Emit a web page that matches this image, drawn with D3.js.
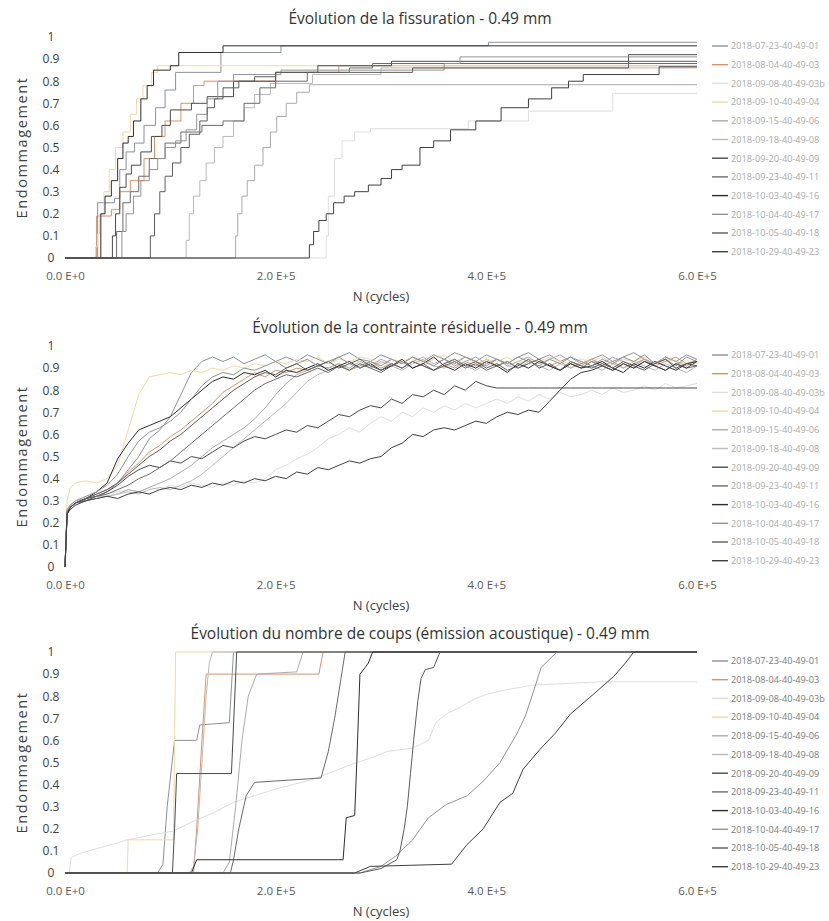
<!DOCTYPE html>
<html>
<head>
<meta charset="utf-8">
<title>Endommagement - 0.49 mm</title>
<script src="https://d3js.org/d3.v7.min.js"></script>
<style>
    body { margin: 0; background: #ffffff; }
    text { font-family: "Open Sans", sans-serif; }
</style>
</head>
<body>
<div id="chart"></div>
<script>
// noms des éprouvettes (légende)
const seriesNames = [
    '2018-07-23-40-49-01', '2018-08-04-40-49-03', '2018-09-08-40-49-03b', '2018-09-10-40-49-04',
    '2018-09-15-40-49-06', '2018-09-18-40-49-08', '2018-09-20-40-49-09', '2018-09-23-40-49-11',
    '2018-10-03-40-49-16', '2018-10-04-40-49-17', '2018-10-05-40-49-18', '2018-10-29-40-49-23'
]

// axes (x en milliers de cycles)
const xTickValues = [0, 200, 400, 600]
const xTickLabels = ['0.0 E+0', '2.0 E+5', '4.0 E+5', '6.0 E+5']
const yTickValues = [0, 0.1, 0.2, 0.3, 0.4, 0.5, 0.6, 0.7, 0.8, 0.9, 1]
const yTickLabels = ['0', '0.1', '0.2', '0.3', '0.4', '0.5', '0.6', '0.7', '0.8', '0.9', '1']

// fissuration : paliers [kcycles, endommagement]
const fissurationSeries = [
    [[0,0],[30,0],[31,0.25],[47,0.27],[52,0.4],[58,0.48],[66,0.52],[75,0.6],[86,0.68],[95,0.76],[105,0.84],[148,0.93],[205,0.96],[402,0.976],[600,0.976]],
    [[0,0],[29,0],[30,0.19],[44,0.22],[52,0.3],[62,0.35],[75,0.45],[85,0.55],[95,0.62],[110,0.7],[122,0.78],[132,0.8],[200,0.84],[260,0.87],[600,0.87]],
    [[0,0],[247,0],[248,0.1],[250,0.28],[256,0.45],[263,0.53],[275,0.57],[290,0.585],[383,0.62],[440,0.665],[520,0.745],[600,0.745]],
    [[0,0],[28,0],[29,0.05],[31,0.11],[33,0.2],[37,0.3],[42,0.4],[48,0.5],[55,0.57],[62,0.65],[68,0.72],[74,0.78],[82,0.84],[88,0.87],[600,0.87]],
    [[0,0],[161,0],[162,0.1],[164,0.2],[168,0.28],[173,0.35],[180,0.42],[188,0.5],[195,0.57],[201,0.64],[210,0.7],[220,0.75],[232,0.784],[600,0.784]],
    [[0,0],[114,0],[115,0.08],[118,0.2],[122,0.28],[128,0.35],[134,0.43],[142,0.5],[150,0.55],[160,0.62],[170,0.68],[180,0.74],[195,0.79],[235,0.83],[300,0.86],[600,0.86]],
    [[0,0],[44,0],[45,0.1],[48,0.2],[52,0.32],[58,0.38],[63,0.42],[72,0.48],[82,0.55],[92,0.6],[100,0.67],[120,0.7],[135,0.73],[160,0.8],[200,0.84],[240,0.87],[310,0.89],[535,0.92],[600,0.92]],
    [[0,0],[48,0],[49,0.12],[55,0.25],[62,0.3],[70,0.37],[80,0.45],[95,0.52],[110,0.57],[130,0.6],[150,0.62],[170,0.7],[185,0.77],[200,0.8],[230,0.84],[270,0.86],[292,0.88],[600,0.88]],
    [[0,0],[33,0],[34,0.2],[38,0.28],[44,0.35],[50,0.45],[55,0.52],[60,0.55],[65,0.62],[72,0.72],[78,0.78],[84,0.85],[100,0.87],[108,0.93],[150,0.96],[600,0.96]],
    [[0,0],[53,0],[54,0.12],[58,0.2],[65,0.28],[72,0.35],[80,0.4],[88,0.45],[95,0.5],[105,0.53],[115,0.58],[125,0.65],[135,0.72],[145,0.8],[160,0.83],[205,0.85],[360,0.88],[375,0.91],[600,0.91]],
    [[0,0],[80,0],[81,0.1],[85,0.2],[90,0.3],[95,0.37],[102,0.43],[110,0.5],[118,0.56],[128,0.62],[135,0.68],[142,0.72],[150,0.77],[165,0.8],[180,0.82],[200,0.84],[330,0.86],[535,0.89],[600,0.89]],
    [[0,0],[231,0],[232,0.06],[236,0.12],[241,0.17],[248,0.2],[255,0.25],[265,0.28],[275,0.3],[288,0.33],[300,0.36],[310,0.4],[320,0.42],[337,0.5],[350,0.53],[366,0.58],[390,0.62],[414,0.68],[440,0.72],[462,0.77],[478,0.8],[492,0.83],[564,0.865],[600,0.865]]
]

// contrainte résiduelle : relevés aux mêmes cycles pour toutes les éprouvettes
const contrainteCycles = [0, 2, 5,
    10, 20, 30, 40, 50, 60, 70, 80, 90, 100,
    110, 120, 130, 140, 150, 160, 170, 180, 190, 200,
    210, 220, 230, 240, 250, 260, 270, 280, 290, 300,
    310, 320, 330, 340, 350, 360, 370, 380, 390, 400,
    410, 420, 430, 440, 450, 460, 470, 480, 490, 500,
    510, 520, 530, 540, 550, 560, 570, 580, 590, 600]
const contrainteSeries = [
    [0,.25,.27, .29,.30,.32,.34,.38,.44,.50,.58,.62,.68, .78,.88,.93,.95,.93,.95,.92,.94,.96,.93, .95,.93,.96,.94,.92,.95,.97,.94,.93,.96, .94,.92,.95,.93,.96,.94,.97,.95,.93,.96, .94,.92,.95,.97,.94,.96,.93,.95,.92,.94, .96,.93,.95,.97,.94,.92,.95,.93,.96,.94],
    [0,.24,.27, .29,.31,.33,.35,.38,.43,.47,.52,.55,.59, .62,.66,.70,.74,.79,.82,.85,.88,.86,.89, .88,.90,.89,.91,.90,.92,.89,.91,.93,.90, .92,.90,.93,.91,.89,.92,.90,.93,.91,.94, .91,.93,.90,.92,.94,.91,.93,.90,.92,.94, .91,.93,.90,.92,.94,.91,.93,.95,.92,.93],
    [0,.25,.27, .29,.31,.32,.33,.34,.35,.34,.36,.35,.37, .36,.38,.37,.36,.38,.37,.39,.38,.40,.44, .46,.49,.51,.54,.58,.60,.63,.61,.65,.68, .66,.70,.68,.72,.70,.73,.71,.74,.72,.74, .76,.74,.77,.75,.78,.76,.79,.77,.78,.80, .78,.81,.79,.80,.82,.80,.83,.81,.82,.83],
    [0,.30,.36, .38,.39,.38,.40,.46,.62,.78,.86,.87,.88, .87,.89,.88,.90,.89,.91,.90,.92,.91,.93, .92,.94,.93,.95,.92,.94,.93,.95,.94,.92, .94,.93,.95,.92,.94,.96,.93,.95,.92,.94, .93,.95,.92,.94,.93,.95,.93,.92,.94,.93, .95,.92,.94,.93,.95,.92,.94,.93,.92,.94],
    [0,.25,.27, .29,.30,.31,.32,.33,.35,.34,.36,.38,.40, .43,.46,.50,.54,.57,.60,.63,.67,.72,.78, .83,.87,.89,.91,.90,.92,.90,.93,.91,.94, .92,.90,.93,.95,.92,.94,.91,.93,.95,.92, .94,.91,.93,.95,.92,.94,.96,.93,.91,.94, .92,.95,.93,.91,.94,.92,.95,.93,.91,.94],
    [0,.26,.28, .30,.31,.32,.32,.33,.34,.33,.35,.36,.35, .37,.39,.42,.46,.50,.54,.58,.62,.66,.70, .74,.79,.84,.87,.89,.91,.89,.92,.90,.93, .91,.89,.92,.94,.91,.90,.93,.91,.89,.92, .94,.91,.90,.93,.91,.89,.92,.90,.93,.91, .89,.92,.90,.93,.91,.89,.92,.90,.88,.91],
    [0,.24,.27, .29,.31,.32,.34,.37,.41,.44,.46,.45,.48, .47,.50,.49,.52,.55,.54,.57,.59,.58,.60, .62,.61,.64,.63,.66,.69,.68,.71,.73,.72, .76,.74,.78,.77,.80,.78,.82,.80,.84,.82, .81,.81,.81,.81,.81,.81,.81,.81,.81,.81, .81,.81,.81,.81,.81,.81,.81,.81,.81,.81],
    [0,.25,.27, .29,.30,.32,.33,.35,.37,.40,.42,.45,.48, .52,.56,.60,.64,.68,.72,.76,.80,.83,.85, .87,.86,.88,.90,.88,.91,.89,.92,.90,.88, .91,.93,.90,.92,.89,.91,.93,.90,.92,.89, .91,.93,.90,.92,.94,.91,.89,.92,.90,.93, .91,.89,.92,.90,.93,.91,.89,.92,.90,.91],
    [0,.24,.27, .29,.31,.34,.38,.49,.56,.62,.64,.66,.68, .72,.76,.80,.84,.86,.85,.88,.87,.89,.86, .89,.88,.90,.92,.89,.91,.93,.90,.92,.89, .91,.94,.90,.92,.95,.91,.89,.92,.90,.93, .91,.88,.92,.90,.93,.91,.89,.92,.90,.91, .93,.90,.88,.92,.90,.93,.91,.89,.92,.93],
    [0,.26,.28, .30,.32,.34,.37,.42,.50,.57,.61,.63,.66, .70,.76,.82,.86,.88,.87,.90,.89,.91,.93, .90,.92,.94,.91,.93,.95,.92,.90,.93,.91, .94,.92,.95,.93,.91,.94,.92,.95,.93,.91, .94,.92,.95,.93,.91,.94,.92,.95,.93,.91, .94,.92,.95,.93,.96,.92,.94,.91,.95,.93],
    [0,.25,.27, .29,.31,.33,.35,.38,.42,.46,.50,.53,.57, .60,.64,.68,.72,.76,.80,.83,.86,.88,.87, .90,.92,.89,.91,.93,.90,.92,.94,.91,.89, .92,.90,.93,.91,.89,.92,.94,.91,.93,.90, .92,.89,.91,.94,.90,.92,.89,.93,.91,.90, .92,.90,.93,.91,.89,.92,.94,.90,.92,.91],
    [0,.24,.26, .28,.30,.31,.32,.31,.33,.34,.33,.35,.36, .35,.37,.36,.38,.37,.39,.38,.40,.39,.41, .40,.43,.42,.45,.44,.46,.48,.47,.49,.50, .54,.56,.60,.59,.62,.63,.62,.64,.66,.65, .68,.70,.69,.71,.70,.75,.80,.85,.88,.89, .91,.89,.92,.90,.93,.91,.89,.92,.90,.93]
]

// émission acoustique : [kcycles, endommagement]
const acoustiqueSeries = [
    [[0,0],[88,0],[93,0.04],[97,0.3],[104,0.6],[125,0.6],[128,0.67],[156,0.68],[160,1],[600,1]],
    [[0,0],[122,0],[125,0.2],[130,0.6],[134,0.9],[241,0.9],[245,1],[600,1]],
    [[0,0],[4,0],[6,0.07],[15,0.09],[30,0.11],[45,0.13],[59,0.15],[80,0.17],[103,0.19],[120,0.23],[140,0.27],[160,0.32],[180,0.35],[200,0.38],[233,0.42],[250,0.45],[271,0.49],[290,0.52],[306,0.55],[330,0.565],[345,0.6],[352,0.68],[362,0.72],[375,0.75],[390,0.79],[401,0.81],[420,0.83],[444,0.85],[508,0.865],[600,0.865]],
    [[0,0],[59,0],[60,0.15],[103,0.15],[105,1],[600,1]],
    [[0,0],[150,0],[156,0.05],[162,0.3],[168,0.6],[174,0.8],[182,0.9],[220,0.91],[226,1],[600,1]],
    [[0,0],[118,0],[122,0.03],[126,0.2],[130,0.5],[134,0.8],[137,0.95],[140,1],[600,1]],
    [[0,0],[102,0],[104,0.2],[106,0.45],[158,0.45],[163,1],[600,1]],
    [[0,0],[157,0],[160,0.06],[165,0.2],[172,0.35],[180,0.41],[243,0.43],[250,0.55],[256,0.7],[262,0.88],[266,1],[600,1]],
    [[0,0],[120,0],[125,0.06],[264,0.06],[267,0.25],[275,0.26],[277,0.5],[280,0.9],[285,0.93],[288,0.95],[292,1],[600,1]],
    [[0,0],[280,0],[300,0.03],[315,0.08],[330,0.15],[345,0.25],[362,0.31],[382,0.35],[398,0.42],[413,0.5],[429,0.63],[437,0.71],[444,0.81],[452,0.93],[467,1],[600,1]],
    [[0,0],[280,0],[300,0.02],[315,0.06],[318,0.1],[322,0.2],[325,0.3],[328,0.45],[331,0.6],[335,0.78],[338,0.88],[342,0.92],[350,0.93],[356,1],[600,1]],
    [[0,0],[275,0],[290,0.03],[367,0.04],[381,0.125],[397,0.2],[413,0.32],[425,0.36],[435,0.47],[451,0.56],[465,0.63],[480,0.72],[502,0.81],[521,0.89],[532,0.95],[540,1],[600,1]]
]

const SERIES_COLORS = ['#8a919e', '#d9926a', '#dedede', '#efd9a6', '#ababab', '#bababa',
                       '#4a4a4a', '#6b6b6b', '#2e2e2e', '#939393', '#5c5c5c', '#3f3f3f']
const X_LEFT = 65
const X_RIGHT = 697
const PLOT_HEIGHT = 221

const svg = d3.select('#chart').append('svg')
    .attr('width', 829)
    .attr('height', 921)

const x = d3.scaleLinear().domain([0, 600]).range([X_LEFT, X_RIGHT])

drawPanel({
    title: 'Évolution de la fissuration - 0.49 mm',
    zeroY: 258,
    lines: fissurationSeries,
    curve: d3.curveStepAfter,
    legendColor: '#aaaaaa'
})
drawPanel({
    title: 'Évolution de la contrainte résiduelle - 0.49 mm',
    zeroY: 567,
    lines: contrainteSeries.map(values => values.map((v, i) => [contrainteCycles[i], v])),
    curve: d3.curveLinear,
    legendColor: '#aaaaaa'
})
drawPanel({
    title: 'Évolution du nombre de coups (émission acoustique) - 0.49 mm',
    zeroY: 873,
    lines: acoustiqueSeries,
    curve: d3.curveLinear,
    legendColor: '#7a7a7a'
})

function drawPanel(panel) {
    const y = d3.scaleLinear().domain([0, 1]).range([panel.zeroY, panel.zeroY - PLOT_HEIGHT])
    const g = svg.append('g')

    g.append('text')
        .attr('x', 420)
        .attr('y', panel.zeroY - 234)
        .attr('text-anchor', 'middle')
        .style('font-size', '15.5px')
        .style('fill', '#333')
        .text(panel.title)

    // axe y : étiquettes seules
    const yAxis = g.append('g')
        .attr('transform', `translate(${X_LEFT},0)`)
        .call(d3.axisLeft(y).tickValues(yTickValues).tickFormat((d, i) => yTickLabels[i]).tickSize(0))
    yAxis.select('.domain').remove()
    yAxis.selectAll('text')
        .attr('x', -14)
        .attr('text-anchor', 'middle')
        .style('font-family', '"Open Sans", sans-serif')
        .style('font-size', '12px')
        .style('fill', '#404040')

    const xAxis = g.append('g')
        .attr('transform', `translate(0,${panel.zeroY})`)
        .call(d3.axisBottom(x).tickValues(xTickValues).tickFormat((d, i) => xTickLabels[i]).tickSize(0).tickPadding(14))
    xAxis.select('.domain').remove()
    xAxis.selectAll('text')
        .style('font-family', '"Open Sans", sans-serif')
        .style('font-size', '11.5px')
        .style('fill', '#595959')

    g.append('text')
        .attr('x', (X_LEFT + X_RIGHT) / 2)
        .attr('y', panel.zeroY + 43)
        .attr('text-anchor', 'middle')
        .style('font-size', '13px')
        .style('fill', '#404040')
        .text('N (cycles)')

    g.append('text')
        .attr('transform', `translate(27,${panel.zeroY - PLOT_HEIGHT / 2}) rotate(-90)`)
        .attr('text-anchor', 'middle')
        .style('font-size', '14.5px')
        .style('letter-spacing', '1.6px')
        .style('fill', '#404040')
        .text('Endommagement')

    const line = d3.line()
        .x(d => x(d[0]))
        .y(d => y(d[1]))
        .curve(panel.curve)

    panel.lines.forEach((points, i) => {
        g.append('path')
            .attr('d', line(points))
            .style('fill', 'none')
            .style('stroke', SERIES_COLORS[i])
            .style('stroke-width', 1)
            .style('stroke-linejoin', 'round')
    })

    // légende
    seriesNames.forEach((name, i) => {
        const rowY = panel.zeroY - 212 + i * 18.7
        g.append('line')
            .attr('x1', 712).attr('x2', 728)
            .attr('y1', rowY).attr('y2', rowY)
            .style('stroke', SERIES_COLORS[i])
            .style('stroke-width', 1.4)
        g.append('text')
            .attr('x', 731)
            .attr('y', rowY + 3.3)
            .style('font-size', '9.2px')
            .style('fill', panel.legendColor)
            .text(name)
    })
}
</script>
</body>
</html>
